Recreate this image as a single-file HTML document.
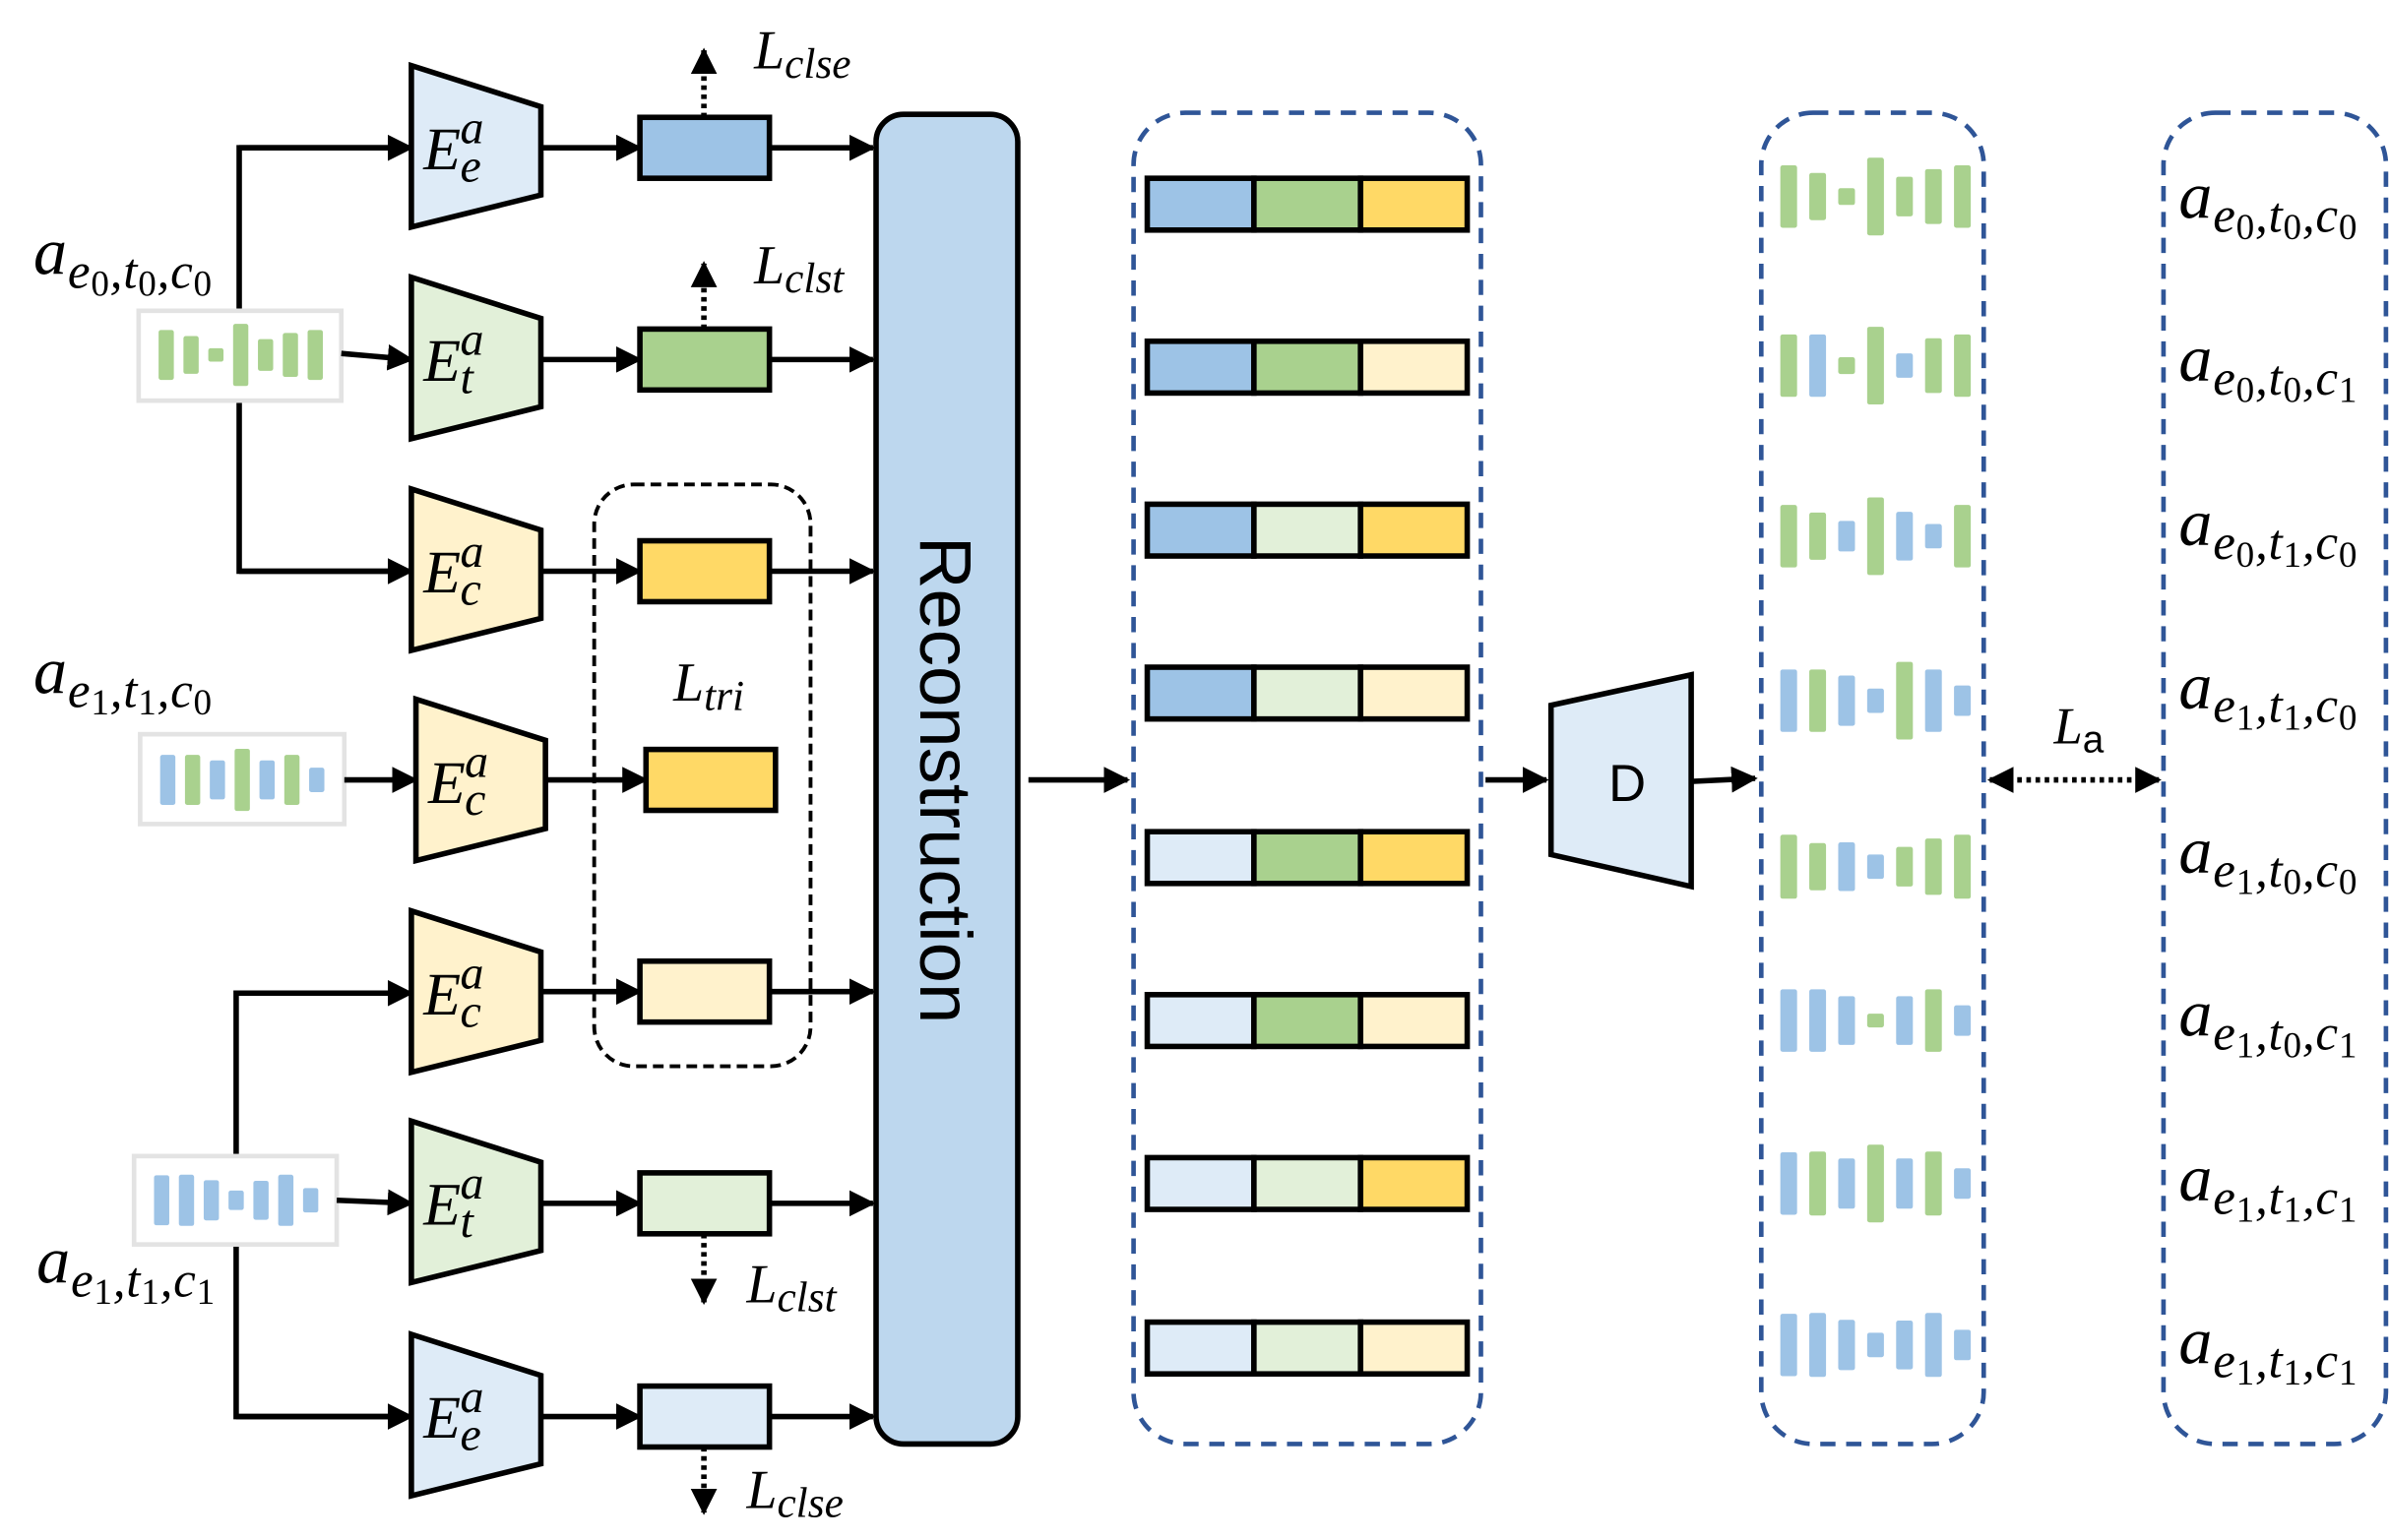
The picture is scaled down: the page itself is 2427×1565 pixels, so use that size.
<!DOCTYPE html>
<html><head><meta charset="utf-8"><style>
html,body{margin:0;padding:0;background:#fff}
svg{display:block}
.m{font-family:"Liberation Serif",serif;font-style:italic;fill:#000}
</style></head><body>
<svg id="s" width="2427" height="1565" viewBox="0 0 1568 1011" xmlns="http://www.w3.org/2000/svg">
<defs>
<marker id="ah" viewBox="0 0 10 10" refX="9" refY="5" markerWidth="4.8" markerHeight="4.8" orient="auto-start-reverse" markerUnits="strokeWidth"><path d="M0,0 L10,5 L0,10 z" fill="#000"/></marker>
</defs>
<g id="g"></g>
</svg>
<script>
const G=document.getElementById('g');let h='';
const B='#9dc3e6',GR='#a9d18e',Y='#ffd966',LY='#fff2cc',LG='#e2f0d9',LB='#deebf7';
function ar(x1,y1,x2,y2,d){h+=`<line x1="${x1}" y1="${y1}" x2="${x2}" y2="${y2}" stroke="#000" stroke-width="3.6" ${d?'stroke-dasharray="3,3"':''} marker-end="url(#ah)"/>`;}
h+=`<polyline points="270,97 157,97 157,375 270,375" fill="none" stroke="#000" stroke-width="3.6"/>`;
h+=`<polyline points="270,652 155,652 155,930 270,930" fill="none" stroke="#000" stroke-width="3.6"/>`;
ar(157,97,270,97);ar(157,375,270,375);ar(155,652,270,652);ar(155,930,270,930);
function spec(cx,cy,sp,w,hs,cols,sc){let s='';for(let i=0;i<7;i++){const x=cx+(i-3)*sp-w/2,hh=hs[i]*sc;s+=`<rect x="${x}" y="${cy-hh/2}" width="${w}" height="${hh}" rx="1.5" fill="${cols[i]=='G'?GR:B}"/>`;}return s;}
h+=`<rect x="91" y="204" width="133" height="59" fill="#fff" stroke="#e3e3e3" stroke-width="3"/>`;
h+=`<rect x="92" y="482" width="134" height="59" fill="#fff" stroke="#e3e3e3" stroke-width="3"/>`;
h+=`<rect x="88" y="759" width="133" height="58" fill="#fff" stroke="#e3e3e3" stroke-width="3"/>`;
h+=spec(158,233,16.3,10,[41,31,11,51,26,36,41],'GGGGGGG',0.8);
h+=spec(159,512,16.3,10,[41,41,32,51,32,41,20],'BGBGBGB',0.8);
h+=spec(155,788,16.3,10,[41,42,33,16,32,42,20],'BBBBBBB',0.8);
const enc=[[97,270,LB,'e'],[236,270,LG,'t'],[375,270,LY,'c'],[513,273,LY,'c'],[652,270,LY,'c'],[790,270,LG,'t'],[930,270,LB,'e']];
ar(224,232,270,236);ar(226,512,273,512);ar(221,788,270,790);
enc.forEach(([y,x,c,sub])=>{h+=`<polygon points="${x},${y-54} ${x+85},${y-27} ${x+85},${y+31} ${x},${y+52}" fill="${c}" stroke="#000" stroke-width="3.6" stroke-linejoin="miter"/>`;
h+=`<text class="m" x="${x+8}" y="${y+14}" font-size="40">E</text><text class="m" x="${x+32}" y="${y-3}" font-size="31">a</text><text class="m" x="${x+32}" y="${y+22}" font-size="31">${sub}</text>`;});
const fb=[[97,420,B],[236,420,GR],[375,420,Y],[512,424,Y],[651,420,LY],[790,420,LG],[930,420,LB]];
fb.forEach(([y,x,c],i)=>{ar(enc[i][1]+85,y,x,y);h+=`<rect x="${x}" y="${y-20}" width="85" height="40" fill="${c}" stroke="#000" stroke-width="3.6"/>`;if(i!=3)ar(x+85,y,573,y);});
h+=`<rect x="390" y="318" width="142" height="382" rx="26" fill="none" stroke="#000" stroke-width="2.5" stroke-dasharray="7,4"/>`;
h+=`<text class="m" x="442" y="460" font-size="36">L<tspan font-size="28" dy="6">tri</tspan></text>`;
ar(462,77,462,33,1);ar(462,216,462,173,1);ar(462,810,462,855,1);ar(462,950,462,993,1);
h+=`<text class="m" x="495" y="45" font-size="36">L<tspan font-size="28" dy="6">clse</tspan></text>`;
h+=`<text class="m" x="495" y="186" font-size="36">L<tspan font-size="28" dy="6">clst</tspan></text>`;
h+=`<text class="m" x="490" y="855" font-size="36">L<tspan font-size="28" dy="6">clst</tspan></text>`;
h+=`<text class="m" x="490" y="990" font-size="36">L<tspan font-size="28" dy="6">clse</tspan></text>`;
h+=`<rect x="575" y="75" width="93" height="873" rx="18" fill="#bdd7ee" stroke="#000" stroke-width="3.6"/>`;
h+=`<text x="0" y="0" transform="translate(604,512) rotate(90)" text-anchor="middle" font-family="Liberation Sans,sans-serif" font-size="48" fill="#000">Reconstruction</text>`;
ar(675,512,740,512);
function lab(x,y,e,t,c){return `<text class="m" x="${x}" y="${y}" font-size="44" letter-spacing="0.5">a<tspan font-size="33" dy="9">e<tspan font-size="24" dy="5" font-style="normal">${e}</tspan><tspan dy="-5">,t</tspan><tspan font-size="24" dy="5" font-style="normal">${t}</tspan><tspan dy="-5">,c</tspan><tspan font-size="24" dy="5" font-style="normal">${c}</tspan></tspan></text>`;}
h+=lab(22,180,0,0,0);h+=lab(22,455,1,1,0);h+=lab(24,842,1,1,1);
const DB='#2f5597';
function db(x,w){h+=`<rect x="${x}" y="74" width="${w}" height="874" rx="34" fill="none" stroke="${DB}" stroke-width="3" stroke-dasharray="10,7"/>`;}
db(744,228);db(1156,146);db(1420,146);
const rows=[[134,B,GR,Y],[241,B,GR,LY],[348,B,LG,Y],[455,B,LG,LY],[563,LB,GR,Y],[670,LB,GR,LY],[777,LB,LG,Y],[885,LB,LG,LY]];
rows.forEach(([y,a,b,c])=>{[a,b,c].forEach((col,i)=>{h+=`<rect x="${753+i*70}" y="${y-17}" width="70" height="34" fill="${col}" stroke="#000" stroke-width="3.6"/>`;});});
ar(975,512,1015,512);
h+=`<polygon points="1018,463 1110,443 1110,582 1018,561" fill="#deebf7" stroke="#000" stroke-width="3.6"/>`;
h+=`<text x="1068" y="526" text-anchor="middle" font-family="Liberation Sans,sans-serif" font-size="34">D</text>`;
ar(1110,513,1152,511);
const os=[[129,[41,31,11,51,26,36,41],'GGGGGGG'],[240,[41,41,11,51,16,36,41],'GBGGBGG'],[352,[41,31,20,51,32,16,41],'GGBGBBG'],[460,[41,41,33,16,51,41,20],'BGBBGBB'],[569,[42,31,32,16,26,37,42],'GGBBGGG'],[670,[41,41,32,9,32,41,20],'BBBGBGB'],[777,[41,42,33,51,33,42,20],'BGBGBGB'],[883,[41,42,33,16,32,42,20],'BBBBBBB']];
os.forEach(([y,hs,c])=>{h+=spec(1231,y,19,11,hs,c,1);});
h+=`<line x1="1306" y1="512" x2="1417" y2="512" stroke="#000" stroke-width="3.6" stroke-dasharray="3,3" marker-start="url(#ah)" marker-end="url(#ah)"/>`;
h+=`<text class="m" x="1348" y="488" font-size="34">L<tspan font-size="25" dy="6" font-style="normal" font-family="Liberation Sans,sans-serif">a</tspan></text>`;
const rl=[[0,0,0],[0,0,1],[0,1,0],[1,1,0],[1,0,0],[1,0,1],[1,1,1],[1,1,1]];
const ly=[143,250,358,465,573,680,788,895];
rl.forEach(([e,t,c],i)=>{h+=lab(1430,ly[i],e,t,c);});
G.innerHTML=h;
</script>
</body></html>
